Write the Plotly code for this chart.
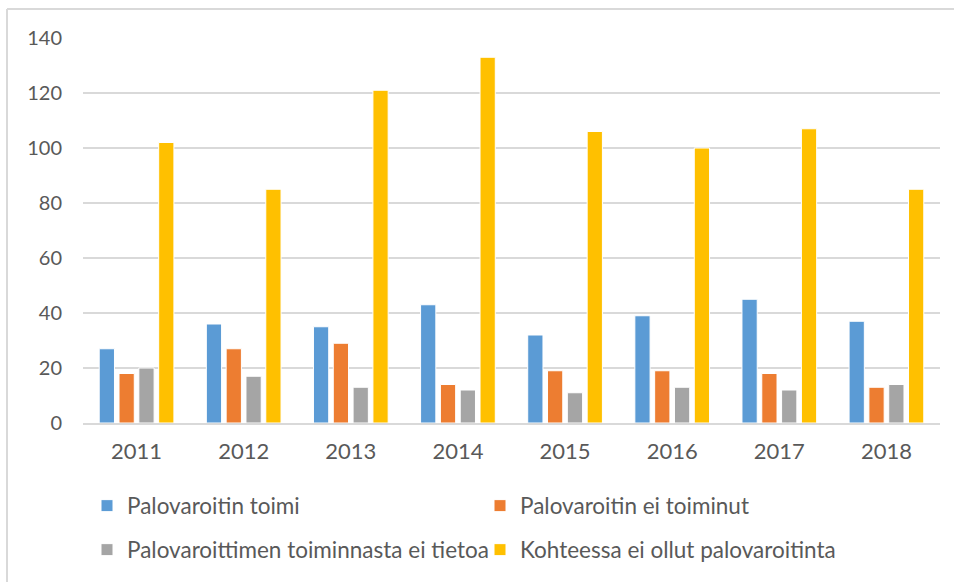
import plotly.graph_objects as go

years = ["2011", "2012", "2013", "2014", "2015", "2016", "2017", "2018"]
toimi = [27, 36, 35, 43, 32, 39, 45, 37]
ei_toiminut = [18, 27, 29, 14, 19, 19, 18, 13]
ei_tietoa = [20, 17, 13, 12, 11, 13, 12, 14]
ei_ollut = [102, 85, 121, 133, 106, 100, 107, 85]

names = ["Palovaroitin toimi", "Palovaroitin ei toiminut",
         "Palovaroittimen toiminnasta ei tietoa", "Kohteessa ei ollut palovaroitinta"]
colors = ["#5B9BD5", "#ED7D31", "#A5A5A5", "#FFC000"]
series = [toimi, ei_toiminut, ei_tietoa, ei_ollut]
legends = ["legend", "legend", "legend2", "legend2"]

W, H = 954, 582
L, R, T, B = 83, 14, 38, 159
pw, ph = W - L - R, H - T - B

def px_x(x):
    return (x - L) / pw

def px_y(y):
    return (H - B - y) / ph

fig = go.Figure()
for n, c, s, lg in zip(names, colors, series, legends):
    fig.add_trace(go.Bar(x=years, y=s, name=n, legend=lg,
                         marker=dict(color=c, line=dict(color="white", width=1))))

font = "Lato, 'Open Sans', sans-serif"
leg_common = dict(orientation="h", entrywidth=348, entrywidthmode="pixels",
                  xanchor="left", yanchor="middle", bgcolor="rgba(0,0,0,0)",
                  font=dict(family=font, size=22.5, color="#595959"),
                  itemclick=False, traceorder="normal")

fig.update_layout(
    width=W, height=H,
    margin=dict(l=L, r=R, t=T, b=B, pad=0, autoexpand=False),
    paper_bgcolor="white", plot_bgcolor="white",
    barmode="group", bargap=0.26, bargroupgap=0.23,
    font=dict(family=font, color="#595959"),
    showlegend=True,
    legend=dict(x=px_x(87), y=px_y(506), **leg_common),
    legend2=dict(x=px_x(87), y=px_y(550), **leg_common),
    xaxis=dict(showgrid=False, showline=True, linecolor="#D9D9D9", linewidth=2,
               ticks="", ticklabelstandoff=8,
               tickfont=dict(family=font, size=22, color="#595959")),
    yaxis=dict(range=[0, 140], dtick=20, showgrid=True, gridcolor="#D9D9D9",
               gridwidth=2, zeroline=False, showline=False, ticks="",
               ticklabelstandoff=20,
               tickfont=dict(family=font, size=20, color="#595959")),
    shapes=[
        dict(type="line", xref="paper", yref="paper",
             x0=px_x(7), x1=px_x(W + 5), y0=px_y(9), y1=px_y(9),
             line=dict(color="#D9D9D9", width=2)),
        dict(type="line", xref="paper", yref="paper",
             x0=px_x(7), x1=px_x(7), y0=px_y(9), y1=px_y(H + 5),
             line=dict(color="#D9D9D9", width=2)),
    ],
)

fig.write_html("out.html", config={"displayModeBar": False},
               post_script="document.body.style.margin='0';document.body.style.overflow='hidden';")
